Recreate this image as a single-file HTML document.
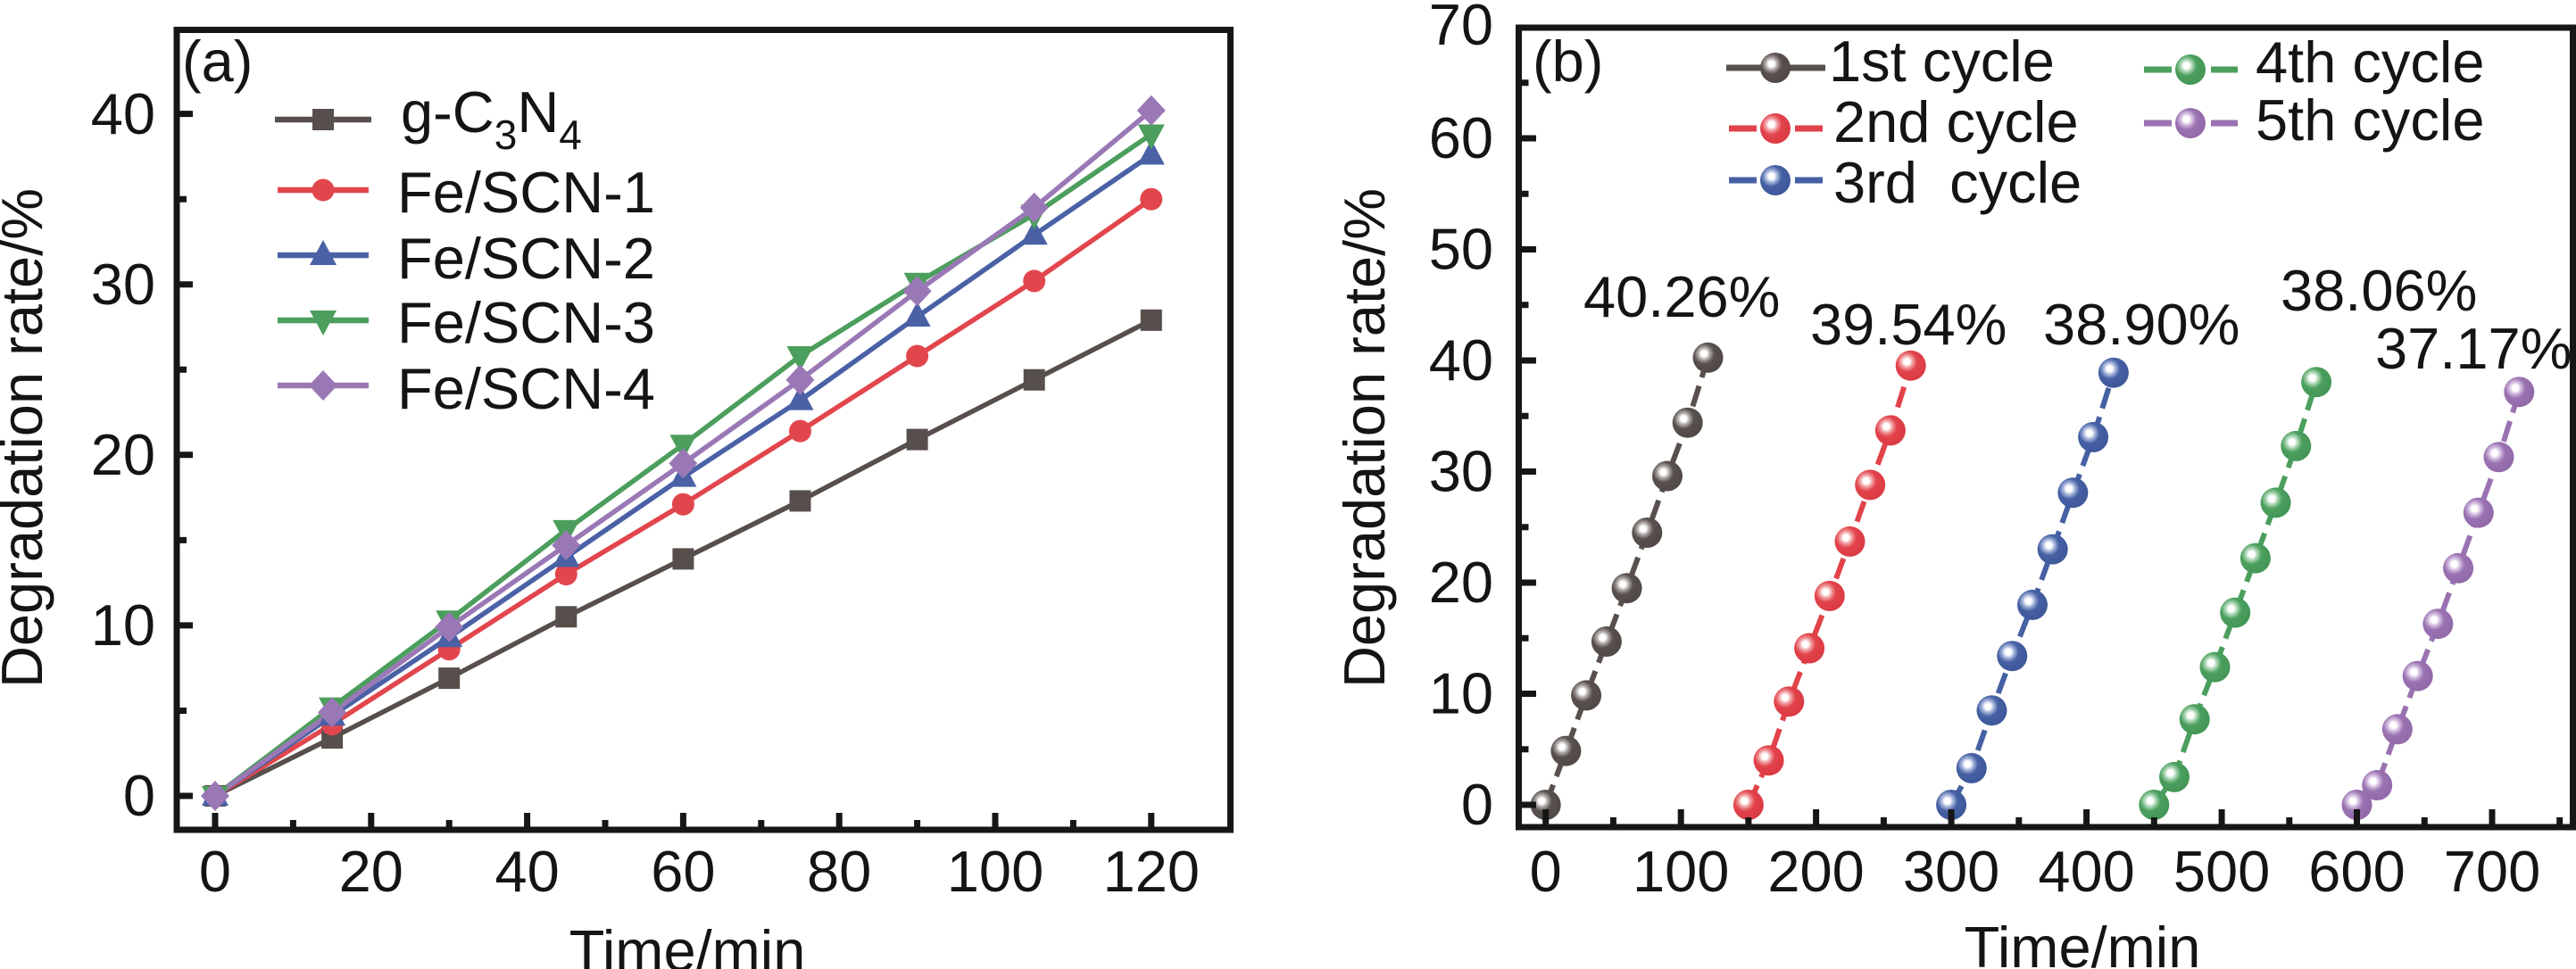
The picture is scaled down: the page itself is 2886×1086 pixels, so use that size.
<!DOCTYPE html>
<html><head><meta charset="utf-8"><style>
html,body{margin:0;padding:0;background:#fff;}
svg{display:block;}
text{font-family:"Liberation Sans",Arial,sans-serif;fill:#141414;}
</style></head><body>
<svg width="2886" height="1086" viewBox="0 0 2886 1086" xmlns="http://www.w3.org/2000/svg">
<defs>
<radialGradient id="gK" cx="0.37" cy="0.37" fx="0.37" fy="0.37" r="0.68"><stop offset="0" stop-color="#fff"/><stop offset="0.14" stop-color="#fff"/><stop offset="0.3" stop-color="#a9a3a1"/><stop offset="0.5" stop-color="#58504d"/><stop offset="1" stop-color="#4f4845"/></radialGradient>
<radialGradient id="gR" cx="0.37" cy="0.37" fx="0.37" fy="0.37" r="0.68"><stop offset="0" stop-color="#fff"/><stop offset="0.14" stop-color="#fff"/><stop offset="0.3" stop-color="#f09a9d"/><stop offset="0.5" stop-color="#e2434b"/><stop offset="1" stop-color="#d93a43"/></radialGradient>
<radialGradient id="gB" cx="0.37" cy="0.37" fx="0.37" fy="0.37" r="0.68"><stop offset="0" stop-color="#fff"/><stop offset="0.14" stop-color="#fff"/><stop offset="0.3" stop-color="#9fb0d8"/><stop offset="0.5" stop-color="#4560a3"/><stop offset="1" stop-color="#3d5799"/></radialGradient>
<radialGradient id="gG" cx="0.37" cy="0.37" fx="0.37" fy="0.37" r="0.68"><stop offset="0" stop-color="#fff"/><stop offset="0.14" stop-color="#fff"/><stop offset="0.3" stop-color="#a3d2ad"/><stop offset="0.5" stop-color="#4b9f5e"/><stop offset="1" stop-color="#439555"/></radialGradient>
<radialGradient id="gP" cx="0.37" cy="0.37" fx="0.37" fy="0.37" r="0.68"><stop offset="0" stop-color="#fff"/><stop offset="0.14" stop-color="#fff"/><stop offset="0.3" stop-color="#cfb6dc"/><stop offset="0.5" stop-color="#9a72b1"/><stop offset="1" stop-color="#9069a8"/></radialGradient>
<rect id="mSq" x="-12" y="-12" width="24" height="24" fill="#574f4c"/>
<circle id="mCi" r="12.5" fill="#e2464d"/>
<polygon id="mTu" points="0,-17 -15,11 15,11" fill="#4a61a6"/>
<polygon id="mTd" points="-15,-11 15,-11 0,17" fill="#4c9e5c"/>
<polygon id="mDi" points="0,-17 16,0 0,17 -16,0" fill="#9a78b6"/>
<circle id="sK" r="17" fill="url(#gK)"/>
<circle id="sR" r="17" fill="url(#gR)"/>
<circle id="sB" r="17" fill="url(#gB)"/>
<circle id="sG" r="17" fill="url(#gG)"/>
<circle id="sP" r="17" fill="url(#gP)"/>
</defs>

<!-- ================= PANEL A ================= -->
<g fill="none" stroke-width="5.5" stroke-linejoin="round">
<polyline stroke="#574f4c" points="241,892 372.1,827 503.2,760.1 634.3,691.3 765.4,626.4 896.5,561.4 1027.6,492.6 1158.7,425.7 1289.8,358.8"/>
<polyline stroke="#e2464d" points="241,892 372.1,811.7 503.2,727.7 634.3,643.6 765.4,565.2 896.5,483.1 1027.6,399 1158.7,314.9 1289.8,223.2"/>
<polyline stroke="#4a61a6" points="241,892 372.1,802.2 503.2,714.3 634.3,624.5 765.4,534.6 896.5,448.6 1027.6,355 1158.7,263.3 1289.8,173.5"/>
<polyline stroke="#4c9e5c" points="241,892 372.1,792.6 503.2,695.2 634.3,593.9 765.4,498.3 896.5,399 1027.6,316.8 1158.7,240.3 1289.8,150.5"/>
<polyline stroke="#9a78b6" points="241,892 372.1,798.4 503.2,702.8 634.3,611.1 765.4,519.4 896.5,425.7 1027.6,326.3 1158.7,232.7 1289.8,123.8"/>
</g>
<g>
<use href="#mSq" x="241" y="892"/><use href="#mSq" x="372.1" y="827"/><use href="#mSq" x="503.2" y="760.1"/><use href="#mSq" x="634.3" y="691.3"/><use href="#mSq" x="765.4" y="626.4"/><use href="#mSq" x="896.5" y="561.4"/><use href="#mSq" x="1027.6" y="492.6"/><use href="#mSq" x="1158.7" y="425.7"/><use href="#mSq" x="1289.8" y="358.8"/>
<use href="#mCi" x="241" y="892"/><use href="#mCi" x="372.1" y="811.7"/><use href="#mCi" x="503.2" y="727.7"/><use href="#mCi" x="634.3" y="643.6"/><use href="#mCi" x="765.4" y="565.2"/><use href="#mCi" x="896.5" y="483.1"/><use href="#mCi" x="1027.6" y="399"/><use href="#mCi" x="1158.7" y="314.9"/><use href="#mCi" x="1289.8" y="223.2"/>
<use href="#mTu" x="241" y="892"/><use href="#mTu" x="372.1" y="802.2"/><use href="#mTu" x="503.2" y="714.3"/><use href="#mTu" x="634.3" y="624.5"/><use href="#mTu" x="765.4" y="534.6"/><use href="#mTu" x="896.5" y="448.6"/><use href="#mTu" x="1027.6" y="355"/><use href="#mTu" x="1158.7" y="263.3"/><use href="#mTu" x="1289.8" y="173.5"/>
<use href="#mTd" x="241" y="892"/><use href="#mTd" x="372.1" y="792.6"/><use href="#mTd" x="503.2" y="695.2"/><use href="#mTd" x="634.3" y="593.9"/><use href="#mTd" x="765.4" y="498.3"/><use href="#mTd" x="896.5" y="399"/><use href="#mTd" x="1027.6" y="316.8"/><use href="#mTd" x="1158.7" y="240.3"/><use href="#mTd" x="1289.8" y="150.5"/>
<use href="#mDi" x="241" y="892"/><use href="#mDi" x="372.1" y="798.4"/><use href="#mDi" x="503.2" y="702.8"/><use href="#mDi" x="634.3" y="611.1"/><use href="#mDi" x="765.4" y="519.4"/><use href="#mDi" x="896.5" y="425.7"/><use href="#mDi" x="1027.6" y="326.3"/><use href="#mDi" x="1158.7" y="232.7"/><use href="#mDi" x="1289.8" y="123.8"/>
</g>

<!-- legend a -->
<g stroke-width="6.5">
<line x1="308" y1="134" x2="416" y2="134" stroke="#574f4c"/>
<line x1="311" y1="213" x2="413" y2="213" stroke="#e2464d"/>
<line x1="311" y1="286" x2="413" y2="286" stroke="#4a61a6"/>
<line x1="311" y1="359" x2="413" y2="359" stroke="#4c9e5c"/>
<line x1="311" y1="432" x2="413" y2="432" stroke="#9a78b6"/>
</g>
<use href="#mSq" x="362" y="134"/>
<use href="#mCi" x="362" y="213"/>
<use href="#mTu" x="362" y="286"/>
<use href="#mTd" x="362" y="359"/>
<use href="#mDi" x="362" y="432"/>
<g font-size="65">
<text x="449" y="148">g-C<tspan font-size="46" dy="19">3</tspan><tspan dy="-19">N</tspan><tspan font-size="46" dy="19">4</tspan></text>
<text x="445" y="238">Fe/SCN-1</text>
<text x="445" y="312">Fe/SCN-2</text>
<text x="445" y="384">Fe/SCN-3</text>
<text x="445" y="458">Fe/SCN-4</text>
<text x="204" y="91">(a)</text>
</g>

<!-- axes a -->
<g stroke="#161616" stroke-width="7" fill="none">
<rect x="198" y="33.5" width="1180.5" height="896.5" stroke-linejoin="miter"/>
<path d="M241,930V911 M415.8,930V911 M590.6,930V911 M765.4,930V911 M940.2,930V911 M1115,930V911 M1289.8,930V911"/>
<path d="M328.4,930V919 M503.2,930V919 M678,930V919 M852.8,930V919 M1027.6,930V919 M1202.4,930V919"/>
<path d="M198,892H216 M198,700.9H216 M198,509.8H216 M198,318.7H216 M198,127.6H216"/>
<path d="M198,796.5H209 M198,605.4H209 M198,414.3H209 M198,223.2H209"/>
</g>
<g font-size="65" text-anchor="middle">
<text x="241" y="999">0</text><text x="415.8" y="999">20</text><text x="590.6" y="999">40</text><text x="765.4" y="999">60</text><text x="940.2" y="999">80</text><text x="1115" y="999">100</text><text x="1289.8" y="999">120</text>
<text x="770" y="1088">Time/min</text>
<text transform="translate(47,491) rotate(-90)">Degradation rate/%</text>
</g>
<g font-size="65" text-anchor="end">
<text x="174" y="914">0</text><text x="174" y="723">10</text><text x="174" y="532">20</text><text x="174" y="341">30</text><text x="174" y="150">40</text>
</g>

<!-- ================= PANEL B ================= -->
<g fill="none" stroke-width="6" stroke-dasharray="24 10">
<polyline stroke="#58504d" points="1731.7,902 1754.4,841.6 1777.1,779.4 1799.9,719 1822.6,659.2 1845.3,597 1868,533.5 1890.7,473.7 1913.5,400.8"/>
<polyline stroke="#e2434b" points="1958.9,902 1981.6,852.2 2004.3,786.2 2027.1,726.5 2049.8,667.9 2072.5,606.9 2095.2,543.4 2117.9,482.4 2140.7,409.7"/>
<polyline stroke="#4560a3" points="2186.1,902 2208.8,860.9 2231.5,796.2 2254.3,735.2 2277,677.9 2299.7,615.6 2322.4,552.2 2345.1,489.9 2367.9,417.7"/>
<polyline stroke="#4b9f5e" points="2413.3,902 2436,870.9 2458.7,806.1 2481.5,747.6 2504.2,686.6 2526.9,625.6 2549.6,563.4 2572.3,499.9 2595.1,428.2"/>
<polyline stroke="#9a72b1" points="2640.5,902 2663.2,880 2685.9,817.3 2708.7,757.6 2731.4,699.1 2754.1,636.8 2776.8,574.6 2799.5,512.3 2822.3,439.2"/>
</g>
<g>
<use href="#sK" x="1731.7" y="902"/><use href="#sK" x="1754.4" y="841.6"/><use href="#sK" x="1777.1" y="779.4"/><use href="#sK" x="1799.9" y="719"/><use href="#sK" x="1822.6" y="659.2"/><use href="#sK" x="1845.3" y="597"/><use href="#sK" x="1868" y="533.5"/><use href="#sK" x="1890.7" y="473.7"/><use href="#sK" x="1913.5" y="400.8"/>
<use href="#sR" x="1958.9" y="902"/><use href="#sR" x="1981.6" y="852.2"/><use href="#sR" x="2004.3" y="786.2"/><use href="#sR" x="2027.1" y="726.5"/><use href="#sR" x="2049.8" y="667.9"/><use href="#sR" x="2072.5" y="606.9"/><use href="#sR" x="2095.2" y="543.4"/><use href="#sR" x="2117.9" y="482.4"/><use href="#sR" x="2140.7" y="409.7"/>
<use href="#sB" x="2186.1" y="902"/><use href="#sB" x="2208.8" y="860.9"/><use href="#sB" x="2231.5" y="796.2"/><use href="#sB" x="2254.3" y="735.2"/><use href="#sB" x="2277" y="677.9"/><use href="#sB" x="2299.7" y="615.6"/><use href="#sB" x="2322.4" y="552.2"/><use href="#sB" x="2345.1" y="489.9"/><use href="#sB" x="2367.9" y="417.7"/>
<use href="#sG" x="2413.3" y="902"/><use href="#sG" x="2436" y="870.9"/><use href="#sG" x="2458.7" y="806.1"/><use href="#sG" x="2481.5" y="747.6"/><use href="#sG" x="2504.2" y="686.6"/><use href="#sG" x="2526.9" y="625.6"/><use href="#sG" x="2549.6" y="563.4"/><use href="#sG" x="2572.3" y="499.9"/><use href="#sG" x="2595.1" y="428.2"/>
<use href="#sP" x="2640.5" y="902"/><use href="#sP" x="2663.2" y="880"/><use href="#sP" x="2685.9" y="817.3"/><use href="#sP" x="2708.7" y="757.6"/><use href="#sP" x="2731.4" y="699.1"/><use href="#sP" x="2754.1" y="636.8"/><use href="#sP" x="2776.8" y="574.6"/><use href="#sP" x="2799.5" y="512.3"/><use href="#sP" x="2822.3" y="439.2"/>
</g>

<!-- legend b -->
<g stroke-width="7">
<line x1="1934" y1="76" x2="2045" y2="76" stroke="#58504d"/>
<line x1="1937" y1="144" x2="1968" y2="144" stroke="#e2434b"/><line x1="2011" y1="144" x2="2042" y2="144" stroke="#e2434b"/>
<line x1="1937" y1="202" x2="1968" y2="202" stroke="#4560a3"/><line x1="2011" y1="202" x2="2042" y2="202" stroke="#4560a3"/>
<line x1="2402" y1="78" x2="2433" y2="78" stroke="#4b9f5e"/><line x1="2477" y1="78" x2="2507" y2="78" stroke="#4b9f5e"/>
<line x1="2402" y1="138" x2="2433" y2="138" stroke="#9a72b1"/><line x1="2477" y1="138" x2="2507" y2="138" stroke="#9a72b1"/>
</g>
<use href="#sK" x="1989" y="76"/>
<use href="#sR" x="1989" y="144"/>
<use href="#sB" x="1989" y="202"/>
<use href="#sG" x="2454" y="78"/>
<use href="#sP" x="2454" y="138"/>
<g font-size="65">
<text x="2049" y="91">1st cycle</text>
<text x="2054" y="159">2nd cycle</text>
<text x="2054" y="227" xml:space="preserve">3rd  cycle</text>
<text x="2527" y="92">4th cycle</text>
<text x="2527" y="157">5th cycle</text>
<text x="1717" y="91">(b)</text>
<text x="1774" y="355">40.26%</text>
<text x="2028" y="386">39.54%</text>
<text x="2289" y="386">38.90%</text>
<text x="2555" y="348">38.06%</text>
<text x="2661" y="413">37.17%</text>
</g>

<!-- axes b -->
<g stroke="#161616" stroke-width="7" fill="none">
<rect x="1701.5" y="31" width="1181" height="896"/>
<path d="M1731.7,927V907 M1883.2,927V907 M2034.6,927V907 M2186.1,927V907 M2337.6,927V907 M2489.1,927V907 M2640.5,927V907 M2792,927V907"/>
<path d="M1807.4,927V916 M1958.9,927V916 M2110.4,927V916 M2261.8,927V916 M2413.3,927V916 M2564.8,927V916 M2716.3,927V916 M2867.7,927V916"/>
<path d="M1701.5,902H1721 M1701.5,777.5H1721 M1701.5,653H1721 M1701.5,528.5H1721 M1701.5,404H1721 M1701.5,279.5H1721 M1701.5,155H1721"/>
<path d="M1701.5,839.75H1712.5 M1701.5,715.25H1712.5 M1701.5,590.75H1712.5 M1701.5,466.25H1712.5 M1701.5,341.75H1712.5 M1701.5,217.25H1712.5 M1701.5,92.75H1712.5"/>
</g>
<g font-size="65" text-anchor="middle">
<text x="1731.7" y="999">0</text><text x="1883.2" y="999">100</text><text x="2034.6" y="999">200</text><text x="2186.1" y="999">300</text><text x="2337.6" y="999">400</text><text x="2489.1" y="999">500</text><text x="2640.5" y="999">600</text><text x="2792" y="999">700</text>
<text x="2333" y="1084">Time/min</text>
<text transform="translate(1551,491) rotate(-90)">Degradation rate/%</text>
</g>
<g font-size="65" text-anchor="end">
<text x="1673" y="924">0</text><text x="1673" y="799.5">10</text><text x="1673" y="675">20</text><text x="1673" y="550.5">30</text><text x="1673" y="426">40</text><text x="1673" y="301.5">50</text><text x="1673" y="177">60</text><text x="1673" y="50">70</text>
</g>
</svg>
</body></html>
